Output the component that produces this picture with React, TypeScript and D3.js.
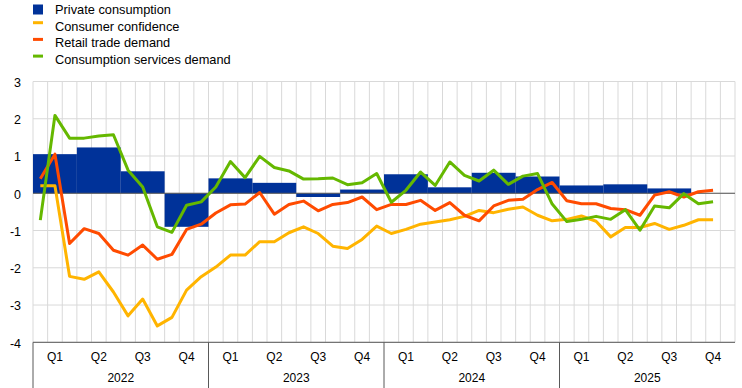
import React from "react";
import * as d3 from "d3";

const years = ["2022", "2023", "2024", "2025"];
const quarters = ["Q1", "Q2", "Q3", "Q4"];
const yTicks = [3, 2, 1, 0, -1, -2, -3, -4];

// quarterly private consumption (2022Q1 .. 2025Q3)
const privateConsumption = [1.05, 1.23, 0.59, -0.9, 0.4, 0.28, -0.1, 0.1, 0.51, 0.16, 0.55, 0.45, 0.21, 0.24, 0.13];

// monthly series Jan 2022 .. Nov 2025
const consumerConfidence = [
  0.2, 0.2, -2.23, -2.31, -2.11, -2.65, -3.29, -2.84, -3.56, -3.33, -2.6, -2.24,
  -1.98, -1.66, -1.66, -1.3, -1.3, -1.06, -0.9, -1.08, -1.42, -1.48, -1.24, -0.88,
  -1.08, -0.97, -0.83, -0.77, -0.71, -0.62, -0.46, -0.52, -0.43, -0.37, -0.59, -0.74,
  -0.7, -0.61, -0.75, -1.17, -0.92, -0.92, -0.81, -0.97, -0.86, -0.71, -0.71,
];
const retailTrade = [
  0.39, 1.05, -1.35, -0.95, -1.08, -1.53, -1.66, -1.39, -1.77, -1.64, -0.97, -0.83,
  -0.53, -0.31, -0.29, 0.02, -0.56, -0.3, -0.21, -0.47, -0.3, -0.25, -0.1, -0.44,
  -0.3, -0.3, -0.19, -0.46, -0.25, -0.59, -0.74, -0.34, -0.19, -0.16, 0.1, 0.29,
  -0.2, -0.28, -0.28, -0.41, -0.44, -0.59, -0.05, 0.04, -0.1, 0.04, 0.08,
];
const servicesDemand = [
  -0.72, 2.09, 1.48, 1.48, 1.54, 1.57, 0.62, 0.17, -0.9, -1.05, -0.32, -0.23,
  0.17, 0.85, 0.42, 0.99, 0.69, 0.6, 0.38, 0.39, 0.41, 0.23, 0.28, 0.53,
  -0.24, 0.08, 0.57, 0.21, 0.84, 0.48, 0.33, 0.62, 0.24, 0.46, 0.53, -0.29,
  -0.76, -0.7, -0.62, -0.7, -0.44, -0.99, -0.34, -0.39, -0.01, -0.28, -0.23,
];

const BLUE = "#003299";
const YELLOW = "#ffb400";
const RED = "#ff4b00";
const GREEN = "#65b800";

const legendItems = [
  { label: "Private consumption", color: BLUE, kind: "bar" },
  { label: "Consumer confidence", color: YELLOW, kind: "line" },
  { label: "Retail trade demand", color: RED, kind: "line" },
  { label: "Consumption services demand", color: GREEN, kind: "line" },
];

const lineSeries = [
  { values: consumerConfidence, color: YELLOW },
  { values: retailTrade, color: RED },
  { values: servicesDemand, color: GREEN },
];

export default function App() {
  const W = 742;
  const H = 388;
  const left = 33;
  const right = 735;
  const top = 81.5;
  const bottom = 342.3;
  const font = "'Liberation Sans', Arial, sans-serif";

  const x = d3.scaleLinear().domain([0, 48]).range([left, right]);
  const y = d3.scaleLinear().domain([-4, 3]).range([bottom, top]);

  const line = d3
    .line<number>()
    .x((_, i) => x(i + 0.5))
    .y((d) => y(d));

  const months = d3.range(49);

  return (
    <svg
      width={W}
      height={H}
      style={{ position: "absolute", left: 0, top: 0, background: "#fff" }}
      fontFamily={font}
    >
      {/* legend */}
      {legendItems.map((it, i) => {
        const cy = 9.5 + i * 16.7;
        return (
          <g key={it.label}>
            {it.kind === "bar" ? (
              <rect x={33} y={cy - 5} width={10} height={10} fill={it.color} />
            ) : (
              <rect x={33} y={cy - 5} width={10} height={3} fill={it.color} />
            )}
            <text x={55} y={cy} dy="0.35em" fontSize={12.8} fill="#000">
              {it.label}
            </text>
          </g>
        );
      })}

      {/* grid */}
      {months.map((m) => (
        <line
          key={"v" + m}
          x1={x(m)}
          x2={x(m)}
          y1={top}
          y2={bottom}
          stroke="#d9d9d9"
          strokeWidth={1}
        />
      ))}
      {yTicks.map((t) => (
        <line
          key={"h" + t}
          x1={left}
          x2={right}
          y1={y(t)}
          y2={y(t)}
          stroke="#d9d9d9"
          strokeWidth={1}
        />
      ))}

      {/* bars */}
      {privateConsumption.map((v, q) => (
        <rect
          key={"b" + q}
          x={x(q * 3)}
          width={x(q * 3 + 3) - x(q * 3)}
          y={Math.min(y(v), y(0))}
          height={Math.abs(y(v) - y(0))}
          fill={BLUE}
        />
      ))}

      {/* zero line */}
      <line x1={left} x2={right} y1={y(0)} y2={y(0)} stroke="#595959" strokeWidth={1} />

      {/* lines */}
      {lineSeries.map((s, i) => (
        <path
          key={"l" + i}
          d={line(s.values) || ""}
          fill="none"
          stroke={s.color}
          strokeWidth={3}
          strokeLinejoin="round"
        />
      ))}

      {/* y tick labels */}
      {yTicks.map((t) => (
        <text
          key={"yt" + t}
          x={21}
          y={y(t) + 1}
          dy="0.35em"
          textAnchor="end"
          fontSize={12.5}
          fill="#000"
        >
          {t}
        </text>
      ))}

      {/* bottom axis */}
      <line x1={left} x2={right} y1={bottom} y2={bottom} stroke="#595959" strokeWidth={1} />
      {years.map((yr, yi) => (
        <g key={yr}>
          <line
            x1={x(yi * 12)}
            x2={x(yi * 12)}
            y1={bottom}
            y2={H}
            stroke="#595959"
            strokeWidth={1}
          />
          {quarters.map((q, qi) => (
            <text
              key={yr + q}
              x={x(yi * 12 + qi * 3 + 1.5)}
              y={357}
              dy="0.35em"
              textAnchor="middle"
              fontSize={12}
              fill="#000"
            >
              {q}
            </text>
          ))}
          <text
            x={x(yi * 12 + 6)}
            y={378}
            dy="0.35em"
            textAnchor="middle"
            fontSize={12}
            fill="#000"
          >
            {yr}
          </text>
        </g>
      ))}
    </svg>
  );
}
